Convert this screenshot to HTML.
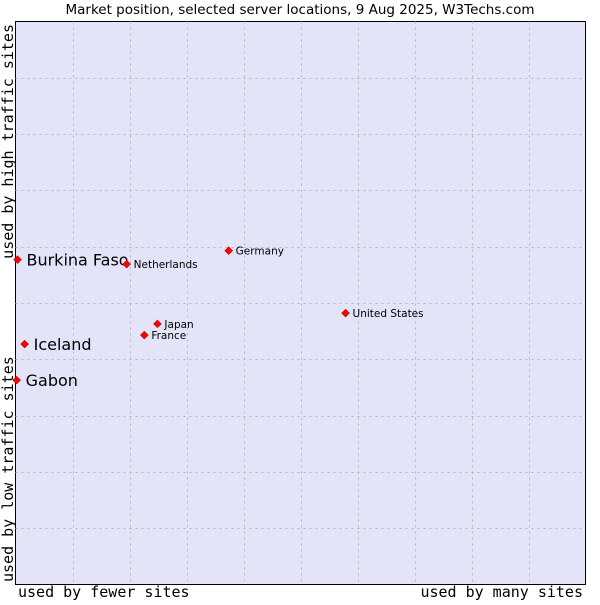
<!DOCTYPE html>
<html><head><meta charset="utf-8"><style>
body{margin:0;background:#fff;width:600px;height:600px;overflow:hidden}
svg text{font-family:"DejaVu Sans","Liberation Sans",sans-serif}
.mono{font-family:"DejaVu Sans Mono","Liberation Mono",monospace !important}
</style></head><body>
<svg id="chart" width="600" height="600">
<text x="300" y="14" text-anchor="middle" font-size="13.5" fill="#000">Market position, selected server locations, 9 Aug 2025, W3Techs.com</text>
<rect x="15.5" y="21.5" width="570" height="563" fill="#e4e4f8" stroke="#000"/>
<g id="grid"></g>
<g id="pts"></g>
<text class="mono" x="18" y="597" font-size="15">used by fewer sites</text>
<text class="mono" x="583" y="597" font-size="15" text-anchor="end">used by many sites</text>
<text class="mono" transform="translate(13,582) rotate(-90)" font-size="15">used by low traffic sites</text>
<text class="mono" transform="translate(13,24) rotate(-90)" font-size="15" text-anchor="end">used by high traffic sites</text>
</svg>
<script>
const names = ["Burkina Faso","Netherlands","Germany","United States","Japan","France","Iceland","Gabon"];
const xVals = [0.35,19.5,37.4,57.9,24.9,22.6,1.6,0.2];
const yVals = [57.7,56.9,59.3,48.2,46.3,44.3,42.7,36.3];
const bigLabel = [true,false,false,false,false,false,true,true];
const X0=15.5,X1=585.5,Y0=584.5,Y1=21.5;
const sx=v=>X0+(X1-X0)*v/100, sy=v=>Y0-(Y0-Y1)*v/100;
const NS="http://www.w3.org/2000/svg";
const grid=document.getElementById('grid');
for(let i=1;i<10;i++){
  const v=document.createElementNS(NS,'line');
  
  
  const gx=Math.round(sx(i*10))+0.5;
  v.setAttribute('x1',gx);v.setAttribute('x2',gx);v.setAttribute('y1',Y1);v.setAttribute('y2',Y0);
  v.setAttribute('stroke','#b4b4b4');v.setAttribute('stroke-dasharray','2,4');grid.appendChild(v);
  const h=document.createElementNS(NS,'line');
  
  
  const gy=Math.round(sy(i*10))+0.5;
  h.setAttribute('x1',X0);h.setAttribute('x2',X1);h.setAttribute('y1',gy);h.setAttribute('y2',gy);
  h.setAttribute('stroke','#b4b4b4');h.setAttribute('stroke-dasharray','2,4');grid.appendChild(h);
}
const pts=document.getElementById('pts');
names.forEach((n,i)=>{
  const x=sx(xVals[i]),y=sy(yVals[i]);
  const d=document.createElementNS(NS,'path');
  
  
  d.setAttribute('d',`M${x},${y-4}L${x+4},${y}L${x},${y+4}L${x-4},${y}Z`);
  d.setAttribute('fill','#f00');d.setAttribute('stroke','#900');d.setAttribute('stroke-width','0.5');
  pts.appendChild(d);
  const t=document.createElementNS(NS,'text');
  
  
  if(bigLabel[i]){t.setAttribute('x',x+9);t.setAttribute('y',y+6);t.setAttribute('font-size','16');}
  else{t.setAttribute('x',x+7);t.setAttribute('y',y+4);t.setAttribute('font-size','10.5');}
  t.textContent=n;pts.appendChild(t);
});
</script>
</body></html>
